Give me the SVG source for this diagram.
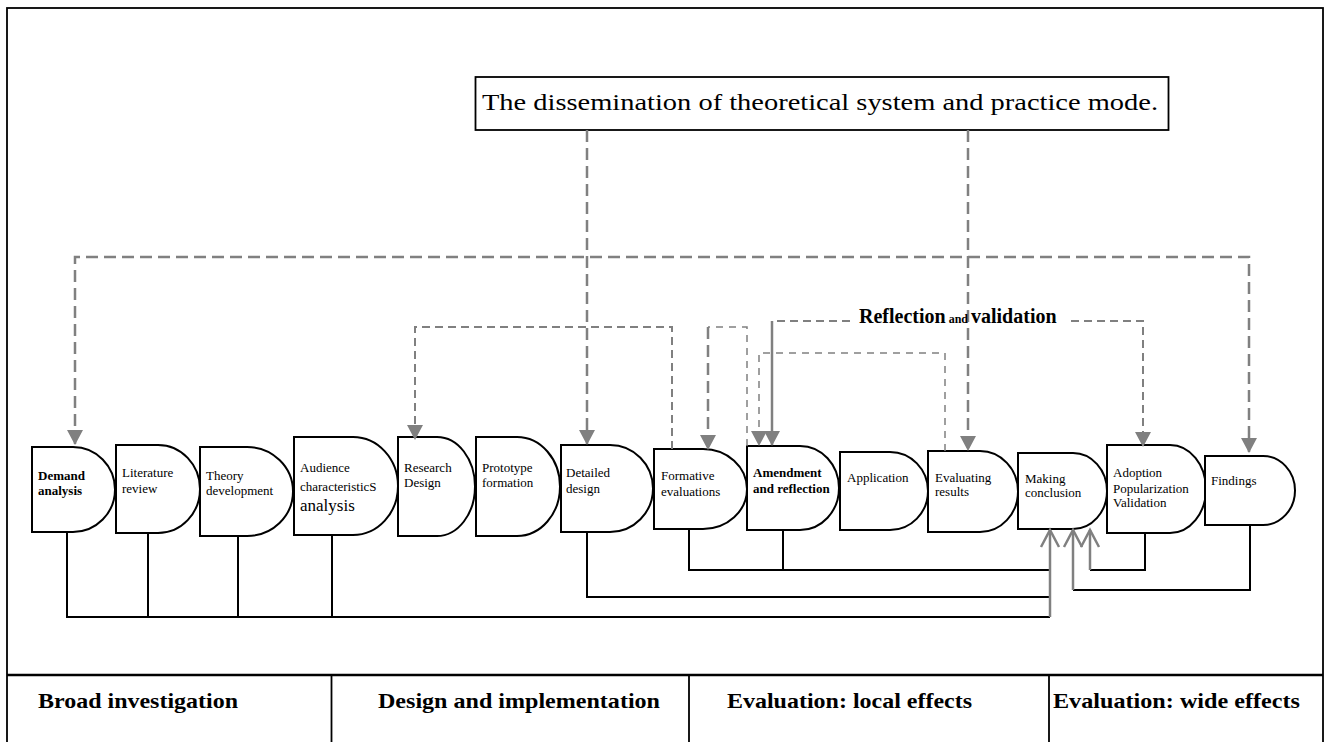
<svg xmlns="http://www.w3.org/2000/svg" width="1326" height="742" viewBox="0 0 1326 742">
<defs>
<marker id="tri" markerUnits="userSpaceOnUse" markerWidth="16" markerHeight="16" refX="14" refY="8" orient="auto-start-reverse" viewBox="0 0 16 16">
<path d="M0,0 L15,8 L0,16 z" fill="#808080"/>
</marker>
<style>
.node{fill:#fff;stroke:#000;stroke-width:2}
.t{font-family:"Liberation Serif","Times New Roman",serif;font-size:13px;fill:#000}
.b{font-weight:bold}
.big{font-family:"Liberation Serif","Times New Roman",serif;font-size:24px;fill:#000}
.cell{font-family:"Liberation Serif","Times New Roman",serif;font-size:21px;font-weight:bold;fill:#000}
.dl{fill:none;stroke:#808080;stroke-width:2.5;stroke-dasharray:12 6}
.dm{fill:none;stroke:#808080;stroke-width:2;stroke-dasharray:8 5}
.dt{fill:none;stroke:#808080;stroke-width:1.5;stroke-dasharray:7 6}
.sg{fill:none;stroke:#808080;stroke-width:2.5}
.k{fill:none;stroke:#000;stroke-width:2}
.frame{fill:none;stroke:#000;stroke-width:1.8}
</style>
</defs>
<rect width="1326" height="742" fill="#fff"/>
<g id="frame">
<rect class="frame" x="7" y="8" width="1316" height="760"/>
<line x1="7" y1="675" x2="1323" y2="675" stroke="#000" stroke-width="2.5"/>
<line x1="331.5" y1="675" x2="331.5" y2="742" stroke="#000" stroke-width="1.8"/>
<line x1="689" y1="675" x2="689" y2="742" stroke="#000" stroke-width="1.8"/>
<line x1="1049" y1="675" x2="1049" y2="742" stroke="#000" stroke-width="1.8"/>
<text class="cell" x="38" y="708" textLength="200" lengthAdjust="spacingAndGlyphs">Broad investigation</text>
<text class="cell" x="378" y="708" textLength="282" lengthAdjust="spacingAndGlyphs">Design and implementation</text>
<text class="cell" x="727" y="708" textLength="245" lengthAdjust="spacingAndGlyphs">Evaluation: local effects</text>
<text class="cell" x="1053" y="708" textLength="247" lengthAdjust="spacingAndGlyphs">Evaluation: wide effects</text>
</g>
<g id="dissemination">
<rect x="475.5" y="77" width="693" height="53" fill="#fff" stroke="#000" stroke-width="1.8"/>
<text class="big" x="482" y="110" textLength="676" lengthAdjust="spacingAndGlyphs">The dissemination of theoretical system and practice mode.</text>
</g>
<g id="nodes">
<g id="n-demand"><path class="node" d="M32,447 H73 A42,42.5 0 0 1 115,489.5 A42,42.5 0 0 1 73,532 H32 Z"/><text class="t b" x="38" y="480">Demand</text><text class="t b" x="38" y="495">analysis</text></g>
<g id="n-literature"><path class="node" d="M116,445 H158 A42,44 0 0 1 200,489 A42,44 0 0 1 158,533 H116 Z"/><text class="t" x="122" y="477">Literature</text><text class="t" x="122" y="493">review</text></g>
<g id="n-theory"><path class="node" d="M200,447 H247 A46,44.5 0 0 1 293,491.5 A46,44.5 0 0 1 247,536 H200 Z"/><text class="t" x="206" y="480">Theory</text><text class="t" x="206" y="495">development</text></g>
<g id="n-audience"><path class="node" d="M294,437 H353 A45,49 0 0 1 398,486 A45,49 0 0 1 353,535 H294 Z"/><text class="t" x="300" y="472">Audience</text><text class="t" x="300" y="491">characteristicS</text><text class="t" x="300" y="511" style="font-size:17px">analysis</text></g>
<g id="n-research"><path class="node" d="M398,437 H437 A38,49.5 0 0 1 475,486.5 A38,49.5 0 0 1 437,536 H398 Z"/><text class="t" x="404" y="472">Research</text><text class="t" x="404" y="487">Design</text></g>
<g id="n-prototype"><path class="node" d="M476,437 H517 A43,49.5 0 0 1 560,486.5 A43,49.5 0 0 1 517,536 H476 Z"/><text class="t" x="482" y="472">Prototype</text><text class="t" x="482" y="487">formation</text></g>
<g id="n-detailed"><path class="node" d="M561,445 H610 A43,43.5 0 0 1 653,488.5 A43,43.5 0 0 1 610,532 H561 Z"/><text class="t" x="566" y="477">Detailed</text><text class="t" x="566" y="493">design</text></g>
<g id="n-formative"><path class="node" d="M654,449 H703 A44,40 0 0 1 747,489 A44,40 0 0 1 703,529 H654 Z"/><text class="t" x="661" y="480">Formative</text><text class="t" x="661" y="496">evaluations</text></g>
<g id="n-amendment"><path class="node" d="M747,446 H800 A39,42 0 0 1 839,488 A39,42 0 0 1 800,530 H747 Z"/><text class="t b" x="753" y="477">Amendment</text><text class="t b" x="753" y="493">and reflection</text></g>
<g id="n-application"><path class="node" d="M840,452 H890 A38,39 0 0 1 928,491 A38,39 0 0 1 890,530 H840 Z"/><text class="t" x="847" y="482">Application</text></g>
<g id="n-evaluating"><path class="node" d="M928,451 H980 A38,40.5 0 0 1 1018,491.5 A38,40.5 0 0 1 980,532 H928 Z"/><text class="t" x="935" y="482">Evaluating</text><text class="t" x="935" y="496">results</text></g>
<g id="n-making"><path class="node" d="M1018,453 H1073 A34,38 0 0 1 1107,491 A34,38 0 0 1 1073,529 H1018 Z"/><text class="t" x="1025" y="483">Making</text><text class="t" x="1025" y="497">conclusion</text></g>
<g id="n-adoption"><path class="node" d="M1107,445 H1170 A36,44 0 0 1 1206,489 A36,44 0 0 1 1170,533 H1107 Z"/><text class="t" x="1113" y="477">Adoption</text><text class="t" x="1113" y="493">Popularization</text><text class="t" x="1113" y="507">Validation</text></g>
<g id="n-findings"><path class="node" d="M1205,456 H1263 A32,34.5 0 0 1 1295,490.5 A32,34.5 0 0 1 1263,525 H1205 Z"/><text class="t" x="1211" y="485">Findings</text></g>
</g>
<g id="connectors">
<path class="dl" d="M75,444 V257 H1249 V452" marker-start="url(#tri)" marker-end="url(#tri)"/>
<path class="dl" d="M587,130 V444" marker-end="url(#tri)"/>
<path class="dl" d="M968,130 V450" marker-end="url(#tri)"/>
<path class="dm" d="M672,449 V327 H415 V439" marker-end="url(#tri)"/>
<path class="dt" d="M747,446 V327 H708"/>
<path class="dl" d="M708,327 V449" marker-end="url(#tri)"/>
<path class="dt" d="M945,451 V353 H759 V445" marker-end="url(#tri)"/>
<path class="dm" d="M850,321 H772"/>
<path class="sg" d="M772,321 V445" marker-end="url(#tri)"/>
<path class="dm" d="M1071,321 H1143 V446" marker-end="url(#tri)"/>
<text x="859" y="323" style="font-family:'Liberation Serif','Times New Roman',serif;font-weight:bold;font-size:20px"><tspan>Reflection</tspan><tspan style="font-size:12px"> and </tspan><tspan>validation</tspan></text>
<path class="k" d="M67,532 V617 H1050"/>
<path class="k" d="M148,533 V617"/>
<path class="k" d="M238,536 V617"/>
<path class="k" d="M332,535 V617"/>
<path class="k" d="M587,532 V597 H1050"/>
<path class="k" d="M689,529 V570 H1050"/>
<path class="k" d="M783,530 V570"/>
<path class="k" d="M1145,533 V570 H1090"/>
<path class="k" d="M1250,525 V590 H1073"/>
<path class="sg" d="M1050,617 V530"/>
<path class="sg" d="M1041,547 L1050,530 L1059,547"/>
<path class="sg" d="M1073,590 V530"/>
<path class="sg" d="M1064,547 L1073,530 L1082,547"/>
<path class="sg" d="M1090,570 V530"/>
<path class="sg" d="M1081,547 L1090,530 L1099,547"/>
</g>
</svg>
